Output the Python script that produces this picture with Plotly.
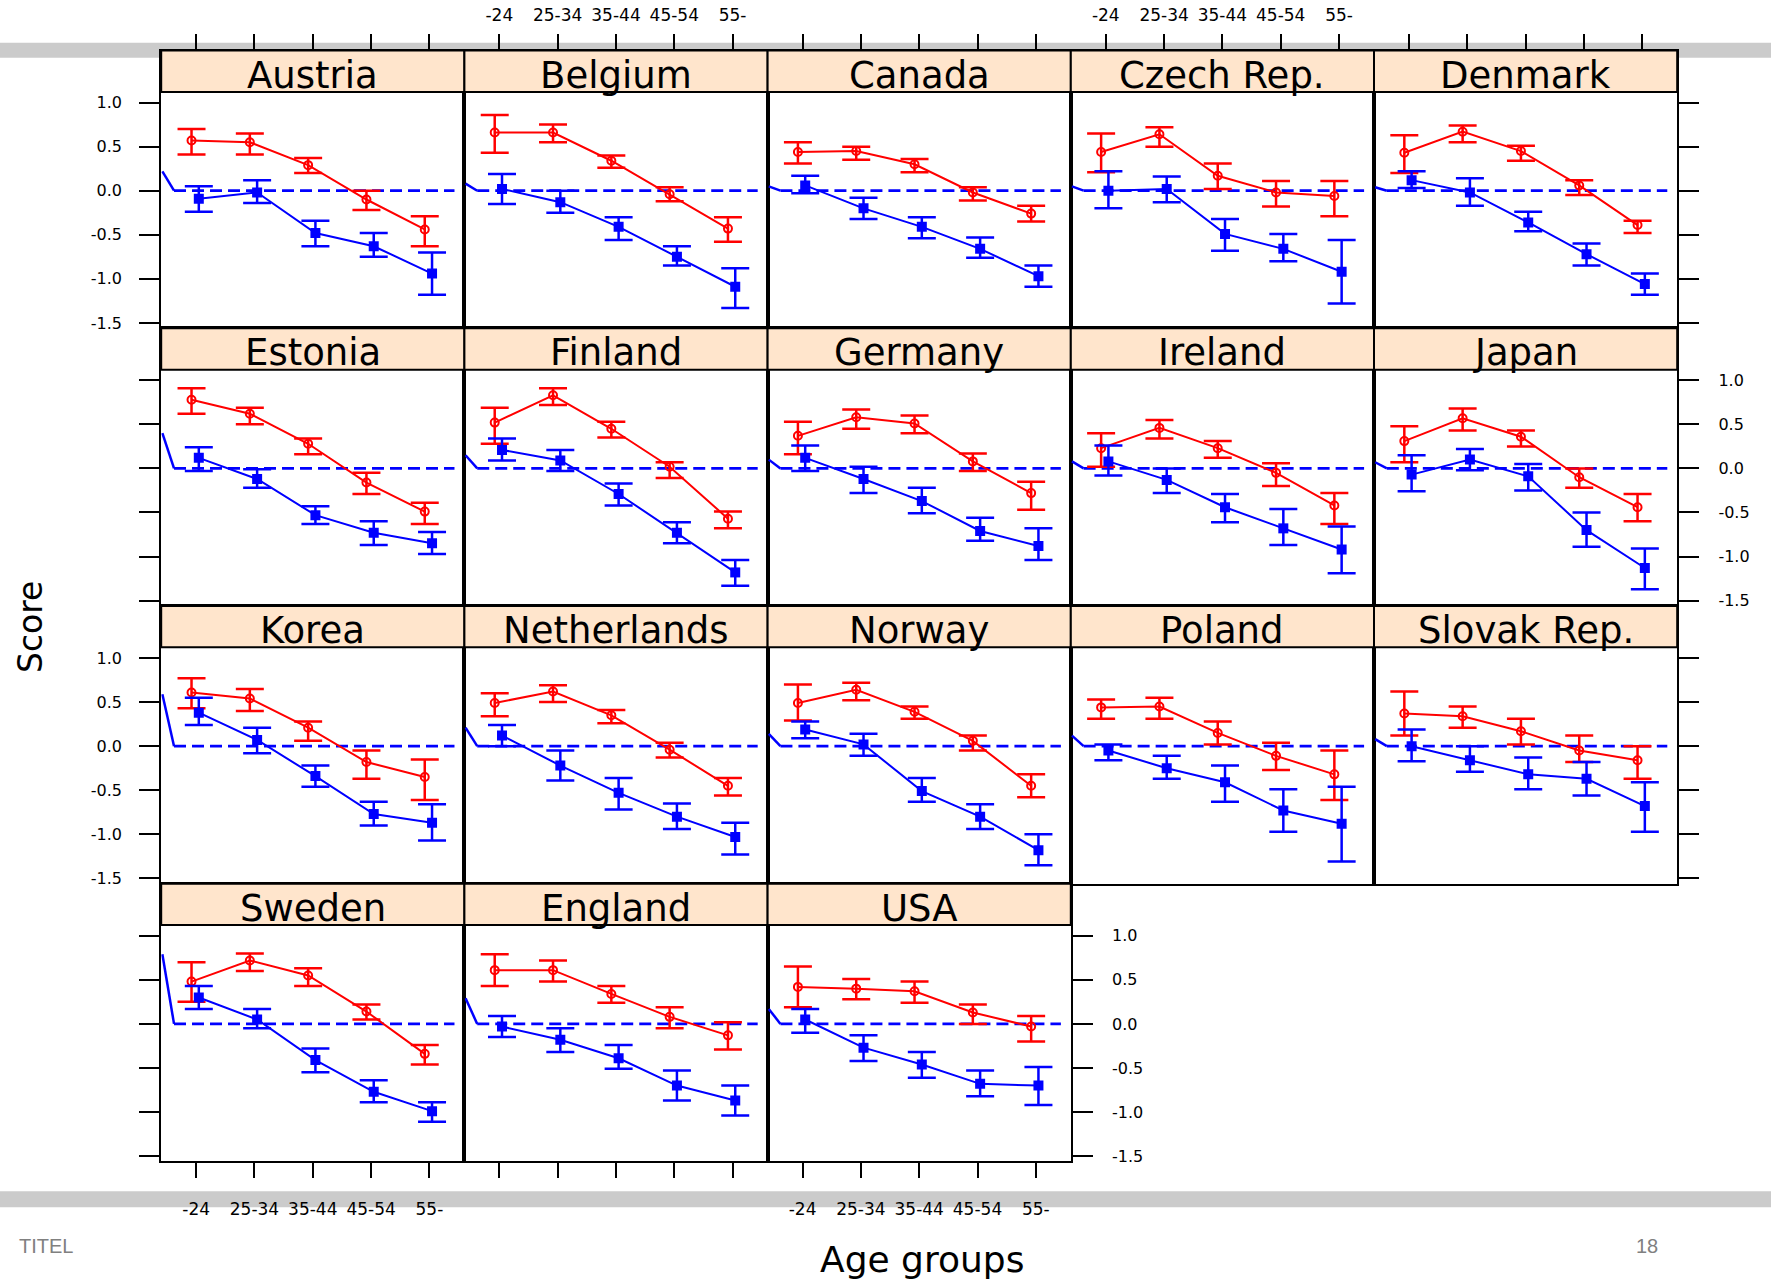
import plotly.graph_objects as go

# ---------------- data ----------------
countries = ["Austria", "Belgium", "Canada", "Czech Rep.", "Denmark",
             "Estonia", "Finland", "Germany", "Ireland", "Japan",
             "Korea", "Netherlands", "Norway", "Poland", "Slovak Rep.",
             "Sweden", "England", "USA"]
age_groups = ["-24", "25-34", "35-44", "45-54", "55-"]
y_ticks = [-1.5, -1.0, -0.5, 0.0, 0.5, 1.0]
y_ticktext = ["-1.5", "-1.0", "-0.5", "0.0", "0.5", "1.0"]

red_mean = {
    "Austria": [0.57, 0.55, 0.29, -0.10, -0.44],
    "Belgium": [0.66, 0.66, 0.34, -0.04, -0.43],
    "Canada": [0.44, 0.45, 0.30, -0.02, -0.26],
    "Czech Rep.": [0.44, 0.64, 0.17, -0.02, -0.06],
    "Denmark": [0.43, 0.67, 0.45, 0.06, -0.39],
    "Estonia": [0.78, 0.62, 0.28, -0.16, -0.49],
    "Finland": [0.52, 0.83, 0.45, 0.02, -0.57],
    "Germany": [0.37, 0.58, 0.51, 0.08, -0.28],
    "Ireland": [0.23, 0.46, 0.23, -0.05, -0.42],
    "Japan": [0.31, 0.57, 0.36, -0.10, -0.44],
    "Korea": [0.61, 0.54, 0.21, -0.18, -0.35],
    "Netherlands": [0.49, 0.62, 0.35, -0.04, -0.45],
    "Norway": [0.49, 0.64, 0.39, 0.06, -0.45],
    "Poland": [0.44, 0.45, 0.15, -0.11, -0.32],
    "Slovak Rep.": [0.37, 0.34, 0.17, -0.05, -0.16],
    "Sweden": [0.48, 0.72, 0.55, 0.14, -0.34],
    "England": [0.61, 0.61, 0.34, 0.08, -0.13],
    "USA": [0.42, 0.40, 0.37, 0.13, -0.03],
}
red_hi = {
    "Austria": [0.70, 0.65, 0.37, 0.00, -0.29],
    "Belgium": [0.86, 0.75, 0.40, 0.04, -0.30],
    "Canada": [0.55, 0.50, 0.36, 0.04, -0.17],
    "Czech Rep.": [0.65, 0.72, 0.31, 0.11, 0.11],
    "Denmark": [0.63, 0.74, 0.51, 0.12, -0.34],
    "Estonia": [0.91, 0.69, 0.34, -0.05, -0.39],
    "Finland": [0.69, 0.91, 0.53, 0.07, -0.49],
    "Germany": [0.53, 0.67, 0.60, 0.17, -0.15],
    "Ireland": [0.40, 0.55, 0.31, 0.06, -0.28],
    "Japan": [0.48, 0.68, 0.43, 0.00, -0.29],
    "Korea": [0.77, 0.65, 0.28, -0.05, -0.15],
    "Netherlands": [0.60, 0.69, 0.41, 0.04, -0.36],
    "Norway": [0.70, 0.72, 0.45, 0.12, -0.32],
    "Poland": [0.53, 0.55, 0.28, 0.04, -0.05],
    "Slovak Rep.": [0.62, 0.45, 0.31, 0.12, 0.00],
    "Sweden": [0.70, 0.80, 0.63, 0.22, -0.24],
    "England": [0.79, 0.72, 0.43, 0.19, 0.02],
    "USA": [0.65, 0.51, 0.48, 0.22, 0.09],
}
red_lo = {
    "Austria": [0.41, 0.41, 0.20, -0.22, -0.63],
    "Belgium": [0.43, 0.55, 0.26, -0.12, -0.58],
    "Canada": [0.31, 0.35, 0.21, -0.11, -0.35],
    "Czech Rep.": [0.21, 0.50, 0.02, -0.18, -0.29],
    "Denmark": [0.20, 0.55, 0.34, -0.05, -0.48],
    "Estonia": [0.62, 0.50, 0.16, -0.29, -0.63],
    "Finland": [0.28, 0.72, 0.35, -0.11, -0.68],
    "Germany": [0.16, 0.45, 0.40, -0.03, -0.47],
    "Ireland": [0.02, 0.34, 0.12, -0.20, -0.63],
    "Japan": [0.07, 0.43, 0.25, -0.22, -0.60],
    "Korea": [0.43, 0.40, 0.06, -0.37, -0.61],
    "Netherlands": [0.34, 0.50, 0.26, -0.13, -0.56],
    "Norway": [0.29, 0.52, 0.31, -0.05, -0.58],
    "Poland": [0.31, 0.31, 0.02, -0.27, -0.61],
    "Slovak Rep.": [0.12, 0.21, 0.02, -0.18, -0.37],
    "Sweden": [0.25, 0.60, 0.43, 0.05, -0.46],
    "England": [0.43, 0.48, 0.24, -0.05, -0.29],
    "USA": [0.19, 0.28, 0.24, 0.00, -0.20],
}
blue_mean = {
    "Austria": [-0.09, -0.02, -0.48, -0.63, -0.94],
    "Belgium": [0.02, -0.13, -0.41, -0.75, -1.09],
    "Canada": [0.06, -0.20, -0.41, -0.66, -0.97],
    "Czech Rep.": [0.00, 0.02, -0.49, -0.66, -0.92],
    "Denmark": [0.12, -0.02, -0.36, -0.72, -1.06],
    "Estonia": [0.12, -0.12, -0.53, -0.73, -0.85],
    "Finland": [0.21, 0.09, -0.29, -0.73, -1.18],
    "Germany": [0.12, -0.12, -0.37, -0.71, -0.88],
    "Ireland": [0.08, -0.13, -0.44, -0.68, -0.92],
    "Japan": [-0.07, 0.10, -0.09, -0.70, -1.13],
    "Korea": [0.38, 0.07, -0.34, -0.77, -0.87],
    "Netherlands": [0.12, -0.22, -0.53, -0.80, -1.03],
    "Norway": [0.19, 0.02, -0.51, -0.80, -1.18],
    "Poland": [-0.05, -0.25, -0.41, -0.73, -0.88],
    "Slovak Rep.": [0.00, -0.16, -0.32, -0.37, -0.68],
    "Sweden": [0.30, 0.05, -0.41, -0.77, -0.99],
    "England": [-0.03, -0.18, -0.39, -0.70, -0.87],
    "USA": [0.05, -0.27, -0.46, -0.68, -0.70],
}
blue_hi = {
    "Austria": [0.05, 0.12, -0.34, -0.48, -0.70],
    "Belgium": [0.19, 0.00, -0.30, -0.63, -0.88],
    "Canada": [0.17, -0.08, -0.30, -0.53, -0.85],
    "Czech Rep.": [0.22, 0.16, -0.32, -0.49, -0.56],
    "Denmark": [0.22, 0.14, -0.24, -0.60, -0.94],
    "Estonia": [0.24, -0.01, -0.43, -0.60, -0.72],
    "Finland": [0.34, 0.21, -0.17, -0.61, -1.04],
    "Germany": [0.26, 0.02, -0.22, -0.56, -0.68],
    "Ireland": [0.26, 0.00, -0.29, -0.46, -0.66],
    "Japan": [0.15, 0.22, 0.05, -0.50, -0.91],
    "Korea": [0.55, 0.21, -0.22, -0.63, -0.66],
    "Netherlands": [0.24, -0.05, -0.36, -0.65, -0.87],
    "Norway": [0.28, 0.14, -0.36, -0.66, -1.00],
    "Poland": [0.02, -0.11, -0.22, -0.49, -0.46],
    "Slovak Rep.": [0.19, 0.00, -0.13, -0.18, -0.41],
    "Sweden": [0.43, 0.17, -0.28, -0.64, -0.89],
    "England": [0.09, -0.05, -0.24, -0.53, -0.70],
    "USA": [0.17, -0.13, -0.32, -0.53, -0.49],
}
blue_lo = {
    "Austria": [-0.24, -0.14, -0.63, -0.75, -1.18],
    "Belgium": [-0.15, -0.25, -0.56, -0.85, -1.33],
    "Canada": [-0.03, -0.32, -0.54, -0.76, -1.09],
    "Czech Rep.": [-0.20, -0.13, -0.68, -0.80, -1.28],
    "Denmark": [0.03, -0.17, -0.46, -0.85, -1.18],
    "Estonia": [-0.03, -0.22, -0.63, -0.87, -0.97],
    "Finland": [0.09, -0.03, -0.42, -0.85, -1.33],
    "Germany": [-0.03, -0.28, -0.51, -0.82, -1.04],
    "Ireland": [-0.08, -0.28, -0.61, -0.87, -1.19],
    "Japan": [-0.26, -0.02, -0.25, -0.89, -1.37],
    "Korea": [0.24, -0.08, -0.46, -0.90, -1.07],
    "Netherlands": [0.00, -0.39, -0.72, -0.94, -1.23],
    "Norway": [0.09, -0.11, -0.63, -0.94, -1.35],
    "Poland": [-0.16, -0.37, -0.63, -0.97, -1.31],
    "Slovak Rep.": [-0.17, -0.29, -0.49, -0.56, -0.97],
    "Sweden": [0.17, -0.05, -0.55, -0.89, -1.11],
    "England": [-0.15, -0.32, -0.51, -0.87, -1.04],
    "USA": [-0.10, -0.42, -0.61, -0.82, -0.92],
}
# value where the short leading reference segment enters each panel
lead_value = {
    "Austria": 0.22, "Belgium": 0.08, "Canada": 0.05, "Czech Rep.": 0.05, "Denmark": 0.04,
    "Estonia": 0.40, "Finland": 0.15, "Germany": 0.10, "Ireland": 0.08, "Japan": 0.07,
    "Korea": 0.59, "Netherlands": 0.21, "Norway": 0.14, "Poland": 0.12, "Slovak Rep.": 0.08,
    "Sweden": 0.79, "England": 0.29, "USA": 0.17,
}
lead_x = [0.42, 0.62]
zero_line_x = [0.62, 5.43]
zero_level = 0.0

# ---------------- layout geometry ----------------
W, H = 1771, 1282
COL_LEFT, COL_W = 161.2, 303.2
ROW_TOP, ROW_H, STRIP_H = 50.7, 278.6, 41.5
ZERO_OFF, PX_UNIT = 140.6, 88.4
Y_RANGE = [-(ROW_H - ZERO_OFF) / PX_UNIT, ZERO_OFF / PX_UNIT]
X_RANGE = [0.4, 5.6]
RED_SHIFT, BLUE_SHIFT = -0.08, 0.045
RED, BLUE = "#ff0000", "#0000ff"
FONT = "DejaVu Sans"

fig = go.Figure()
shapes, annotations = [], []
layout = {}

# background grey bands
shapes.append(dict(type="rect", xref="paper", yref="paper", x0=0, x1=1,
                   y0=1 - 58 / H, y1=1 - 43 / H, fillcolor="#cbcbcb",
                   line=dict(width=0), layer="below"))
shapes.append(dict(type="rect", xref="paper", yref="paper", x0=0, x1=1,
                   y0=1 - 1211 / H, y1=1 - 1195 / H, fillcolor="#cbcbcb",
                   line=dict(width=0), layer="below"))

pos = [1, 2, 3, 4, 5]
for k, name in enumerate(countries):
    row, col = divmod(k, 5)
    L = COL_LEFT + COL_W * col
    T = ROW_TOP + ROW_H * row
    sfx = "" if k == 0 else str(k + 1)
    xa = dict(domain=[L / W, (L + COL_W) / W], range=X_RANGE, anchor="y" + sfx,
              showline=True, mirror=True, linecolor="black", linewidth=2,
              showgrid=False, zeroline=False, tickvals=pos, ticktext=age_groups,
              tickfont=dict(family=FONT, size=17, color="black"), fixedrange=True)
    if row == 0:
        xa.update(side="top", ticks="outside", ticklen=15, tickwidth=2, tickcolor="black",
                  showticklabels=col in (1, 3), ticklabelstandoff=6)
    elif row == 3:
        xa.update(side="bottom", ticks="outside", ticklen=15, tickwidth=2, tickcolor="black",
                  showticklabels=col in (0, 2), ticklabelstandoff=16)
    else:
        xa.update(ticks="", showticklabels=False)
    ya = dict(domain=[1 - (T + ROW_H) / H, 1 - T / H], range=Y_RANGE, anchor="x" + sfx,
              showline=True, mirror=True, linecolor="black", linewidth=2,
              showgrid=False, zeroline=False, tickvals=y_ticks, ticktext=y_ticktext,
              tickfont=dict(family=FONT, size=16, color="black"), fixedrange=True)
    if col == 0:
        ya.update(side="left", ticks="outside", ticklen=20, tickwidth=2, tickcolor="black",
                  showticklabels=row in (0, 2), ticklabelstandoff=14)
    elif col == 4 or (row == 3 and col == 2):
        ya.update(side="right", ticks="outside", ticklen=20, tickwidth=2, tickcolor="black",
                  showticklabels=row in (1, 3), ticklabelstandoff=16)
    else:
        ya.update(ticks="", showticklabels=False)
    layout["xaxis" + sfx] = xa
    layout["yaxis" + sfx] = ya

    xr, yr = "x" + sfx, "y" + sfx
    # leading segment and dashed reference line
    fig.add_trace(go.Scatter(x=lead_x, y=[lead_value[name], zero_level], mode="lines",
                             line=dict(color=BLUE, width=2.5), xaxis=xr, yaxis=yr,
                             showlegend=False, hoverinfo="skip"))
    fig.add_trace(go.Scatter(x=zero_line_x, y=[zero_level, zero_level], mode="lines",
                             line=dict(color=BLUE, width=2.8, dash="12px,6px"),
                             xaxis=xr, yaxis=yr, showlegend=False, hoverinfo="skip"))
    # red series
    rm, rh, rl = red_mean[name], red_hi[name], red_lo[name]
    fig.add_trace(go.Scatter(
        x=[p + RED_SHIFT for p in pos], y=rm, mode="lines+markers",
        line=dict(color=RED, width=2),
        marker=dict(symbol="circle-open", size=8, color=RED, line=dict(width=2, color=RED)),
        error_y=dict(type="data", symmetric=False,
                     array=[h - m for h, m in zip(rh, rm)],
                     arrayminus=[m - l for m, l in zip(rm, rl)],
                     color=RED, thickness=2.5, width=14),
        xaxis=xr, yaxis=yr, showlegend=False))
    # blue series
    bm, bh, bl = blue_mean[name], blue_hi[name], blue_lo[name]
    fig.add_trace(go.Scatter(
        x=[p + BLUE_SHIFT for p in pos], y=bm, mode="lines+markers",
        line=dict(color=BLUE, width=2),
        marker=dict(symbol="square", size=10, color=BLUE),
        error_y=dict(type="data", symmetric=False,
                     array=[h - m for h, m in zip(bh, bm)],
                     arrayminus=[m - l for m, l in zip(bm, bl)],
                     color=BLUE, thickness=2.5, width=14),
        xaxis=xr, yaxis=yr, showlegend=False))

    # strip
    shapes.append(dict(type="rect", xref="paper", yref="paper",
                       x0=L / W, x1=(L + COL_W) / W,
                       y0=1 - (T + STRIP_H) / H, y1=1 - T / H,
                       fillcolor="#ffe5cc", line=dict(color="black", width=2), layer="above"))
    annotations.append(dict(xref="paper", yref="paper", x=(L + COL_W / 2) / W,
                            y=1 - (T + STRIP_H / 2 + 4) / H, text=name, showarrow=False,
                            xanchor="center", yanchor="middle",
                            font=dict(family=FONT, size=37, color="black")))

annotations += [
    dict(xref="paper", yref="paper", x=30 / W, y=1 - 629 / H, text="Score", textangle=-90,
         showarrow=False, xanchor="center", yanchor="middle",
         font=dict(family=FONT, size=33, color="black")),
    dict(xref="paper", yref="paper", x=922 / W, y=1 - 1263 / H, text="Age groups",
         showarrow=False, xanchor="center", yanchor="middle",
         font=dict(family=FONT, size=36, color="black")),
    dict(xref="paper", yref="paper", x=17 / W, y=1 - 1250 / H, text="TITEL",
         showarrow=False, xanchor="left", yanchor="middle",
         font=dict(family="Liberation Sans Narrow, Liberation Sans", size=20, color="#808080")),
    dict(xref="paper", yref="paper", x=1647 / W, y=1 - 1250 / H, text="18",
         showarrow=False, xanchor="center", yanchor="middle",
         font=dict(family="Liberation Sans Narrow, Liberation Sans", size=20, color="#808080")),
]

fig.update_layout(width=W, height=H, margin=dict(l=0, r=0, t=0, b=0),
                  paper_bgcolor="white", plot_bgcolor="rgba(0,0,0,0)",
                  shapes=shapes, annotations=annotations, showlegend=False, **layout)

fig.write_html("out.html", config={"displayModeBar": False},
               post_script="document.body.style.margin='0';")
